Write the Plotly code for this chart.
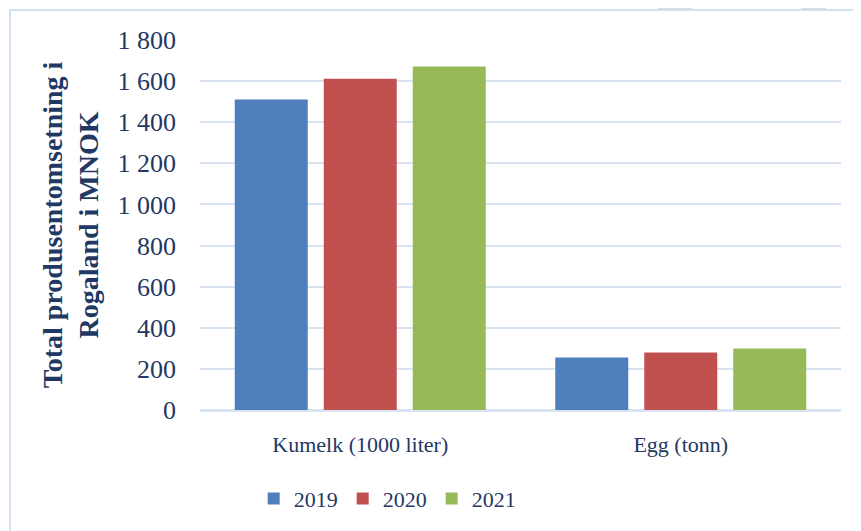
import plotly.graph_objects as go

categories = ["Kumelk (1000 liter)", "Egg (tonn)"]
years = ["2019", "2020", "2021"]
values_2019 = [1510, 255]
values_2020 = [1612, 280]
values_2021 = [1671, 299]
series_values = [values_2019, values_2020, values_2021]
colors = ["#4F7FBD", "#C0504E", "#98B957"]
y_ticks = [0, 200, 400, 600, 800, 1000, 1200, 1400, 1600, 1800]

FONT = "Liberation Serif, Times New Roman, serif"
TXT = "#1F3864"
GRID = "#D9E4F3"
WM = "#DCDCDC"

fig = go.Figure()
for name, vals, col in zip(years, series_values, colors):
    fig.add_trace(go.Bar(x=categories, y=vals, name=name,
                         marker=dict(color=col, line=dict(width=0))))

# the page body adds an 8px offset; size the figure so it fills the 861x531 window
fig.update_layout(
    width=853, height=523,
    margin=dict(l=192, r=20, t=32, b=121, autoexpand=False),
    paper_bgcolor="white", plot_bgcolor="white",
    barmode="group", bargap=0.167, bargroupgap=0.18,
    separators=", ",
    font=dict(family=FONT, color=TXT, size=22),
    showlegend=True,
    legend=dict(orientation="h", x=0.292, xanchor="center", y=-0.24, yanchor="middle",
                font=dict(family=FONT, size=22, color=TXT), traceorder="normal",
                itemwidth=30),
    xaxis=dict(showgrid=False, showline=True, linecolor=GRID, linewidth=2,
               automargin=False,
               ticks="", tickfont=dict(family=FONT, size=22, color=TXT),
               ticklabelstandoff=14),
    yaxis=dict(range=[0, 1800], tickvals=y_ticks, tickformat=",d",
               automargin=False,
               showgrid=True, gridcolor=GRID, gridwidth=2,
               zeroline=True, zerolinecolor=GRID, zerolinewidth=2,
               showline=False, ticks="",
               tickfont=dict(family=FONT, size=26, color=TXT),
               ticklabelstandoff=23,
               title=dict(text="<b>Total produsentomsetning i<br>Rogaland i MNOK</b>",
                          font=dict(family=FONT, size=28, color=TXT), standoff=10)),
    shapes=[
        dict(type="rect", xref="paper", yref="paper",
             x0=-0.2964, x1=1.2, y0=-0.5, y1=1.0811,
             line=dict(color="#D3E1F3", width=2), fillcolor="rgba(0,0,0,0)",
             layer="below"),
        dict(type="path", xref="paper", yref="paper",
             path="M 0.7145,1.0838 Q 0.714,1.1135 0.735,1.1135 L 0.7582,1.1135 L 0.7691,1.0838 Z",
             fillcolor=WM, line=dict(width=0), layer="below"),
        dict(type="path", xref="paper", yref="paper",
             path="M 0.9376,1.0824 L 0.9407,1.1135 L 1.0312,1.1135 L 1.0312,1.1027 "
                  "Q 0.99,1.098 0.9735,1.0824 Z",
             fillcolor=WM, line=dict(width=0), layer="below"),
    ],
)

fig.write_html("out.html")
